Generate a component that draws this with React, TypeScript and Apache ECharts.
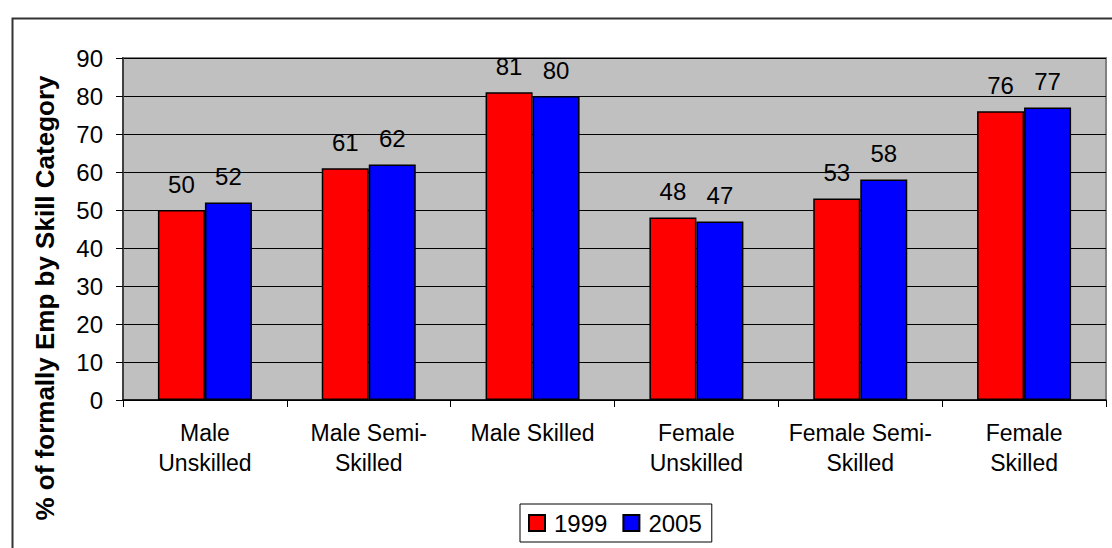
import React, { useEffect, useRef } from "react";
import * as echarts from "echarts";

const categories = [
  "Male\nUnskilled",
  "Male Semi-\nSkilled",
  "Male Skilled",
  "Female\nUnskilled",
  "Female Semi-\nSkilled",
  "Female\nSkilled",
];
const values1999 = [50, 61, 81, 48, 53, 76];
const values2005 = [52, 62, 80, 47, 58, 77];
const seriesNames = ["1999", "2005"];
const yTitle = "% of formally Emp by Skill Category";

const FONT = "'Liberation Sans', Arial, sans-serif";

export default function App() {
  const ref = useRef<HTMLDivElement>(null);
  useEffect(() => {
    if (!ref.current) return;
    const chart = echarts.init(ref.current, undefined, { renderer: "svg" });
    const labelCfg = {
      show: true,
      position: "top",
      distance: 14,
      fontSize: 24,
      color: "#000",
      fontFamily: FONT,
    };
    chart.setOption({
      animation: false,
      backgroundColor: "#fff",
      textStyle: { fontFamily: FONT },
      grid: {
        left: 123,
        top: 58,
        right: 6,
        bottom: 148,
        show: true,
        backgroundColor: "#C0C0C0",
        borderColor: "#808080",
        borderWidth: 2,
      },
      legend: {
        left: 520,
        top: 504,
        data: seriesNames,
        icon: "rect",
        itemWidth: 16,
        itemHeight: 16,
        itemGap: 15,
        padding: [7, 10, 7, 8],
        borderColor: "#000",
        borderWidth: 1,
        backgroundColor: "#fff",
        itemStyle: { borderColor: "#000", borderWidth: 2 },
        textStyle: { fontSize: 24, color: "#000", fontFamily: FONT, padding: [0, 0, 0, 4] },
      },
      graphic: [
        {
          type: "rect",
          left: 10,
          top: 16,
          shape: { x: 0, y: 0, width: 1200, height: 600 },
          style: { fill: "none", stroke: "#333", lineWidth: 2 },
          z: 100,
          silent: true,
        },
        {
          type: "text",
          x: 45,
          y: 298,
          rotation: Math.PI / 2,
          style: {
            text: yTitle,
            fontSize: 26,
            fontWeight: "bold",
            fontFamily: FONT,
            fill: "#000",
            align: "center",
            verticalAlign: "middle",
          },
        },
      ],
      xAxis: {
        type: "category",
        data: categories,
        axisLine: { show: true, lineStyle: { color: "#000", width: 1.5 } },
        axisTick: { show: true, length: 7, lineStyle: { color: "#000" } },
        axisLabel: {
          fontSize: 23,
          color: "#000",
          fontFamily: FONT,
          lineHeight: 30,
          margin: 18,
          interval: 0,
        },
      },
      yAxis: {
        type: "value",
        min: 0,
        max: 90,
        interval: 10,
        axisLine: { show: true, lineStyle: { color: "#404040", width: 2 } },
        axisTick: { show: true, length: 7, lineStyle: { color: "#000" } },
        axisLabel: { fontSize: 24, color: "#000", fontFamily: FONT, margin: 20 },
        splitLine: { show: true, lineStyle: { color: "#000", width: 1 } },
      },
      series: [
        {
          name: seriesNames[0],
          type: "bar",
          data: values1999,
          barWidth: 47,
          barGap: "0%",
          itemStyle: { color: "#FF0000", borderColor: "#000", borderWidth: 1.5 },
          label: labelCfg,
        },
        {
          name: seriesNames[1],
          type: "bar",
          data: values2005,
          barWidth: 47,
          barGap: "0%",
          itemStyle: { color: "#0000FF", borderColor: "#000", borderWidth: 1.5 },
          label: labelCfg,
        },
      ],
    });
    return () => chart.dispose();
  }, []);
  return (
    <div
      ref={ref}
      style={{ position: "fixed", left: 0, top: 0, width: 1112, height: 548 }}
    />
  );
}
